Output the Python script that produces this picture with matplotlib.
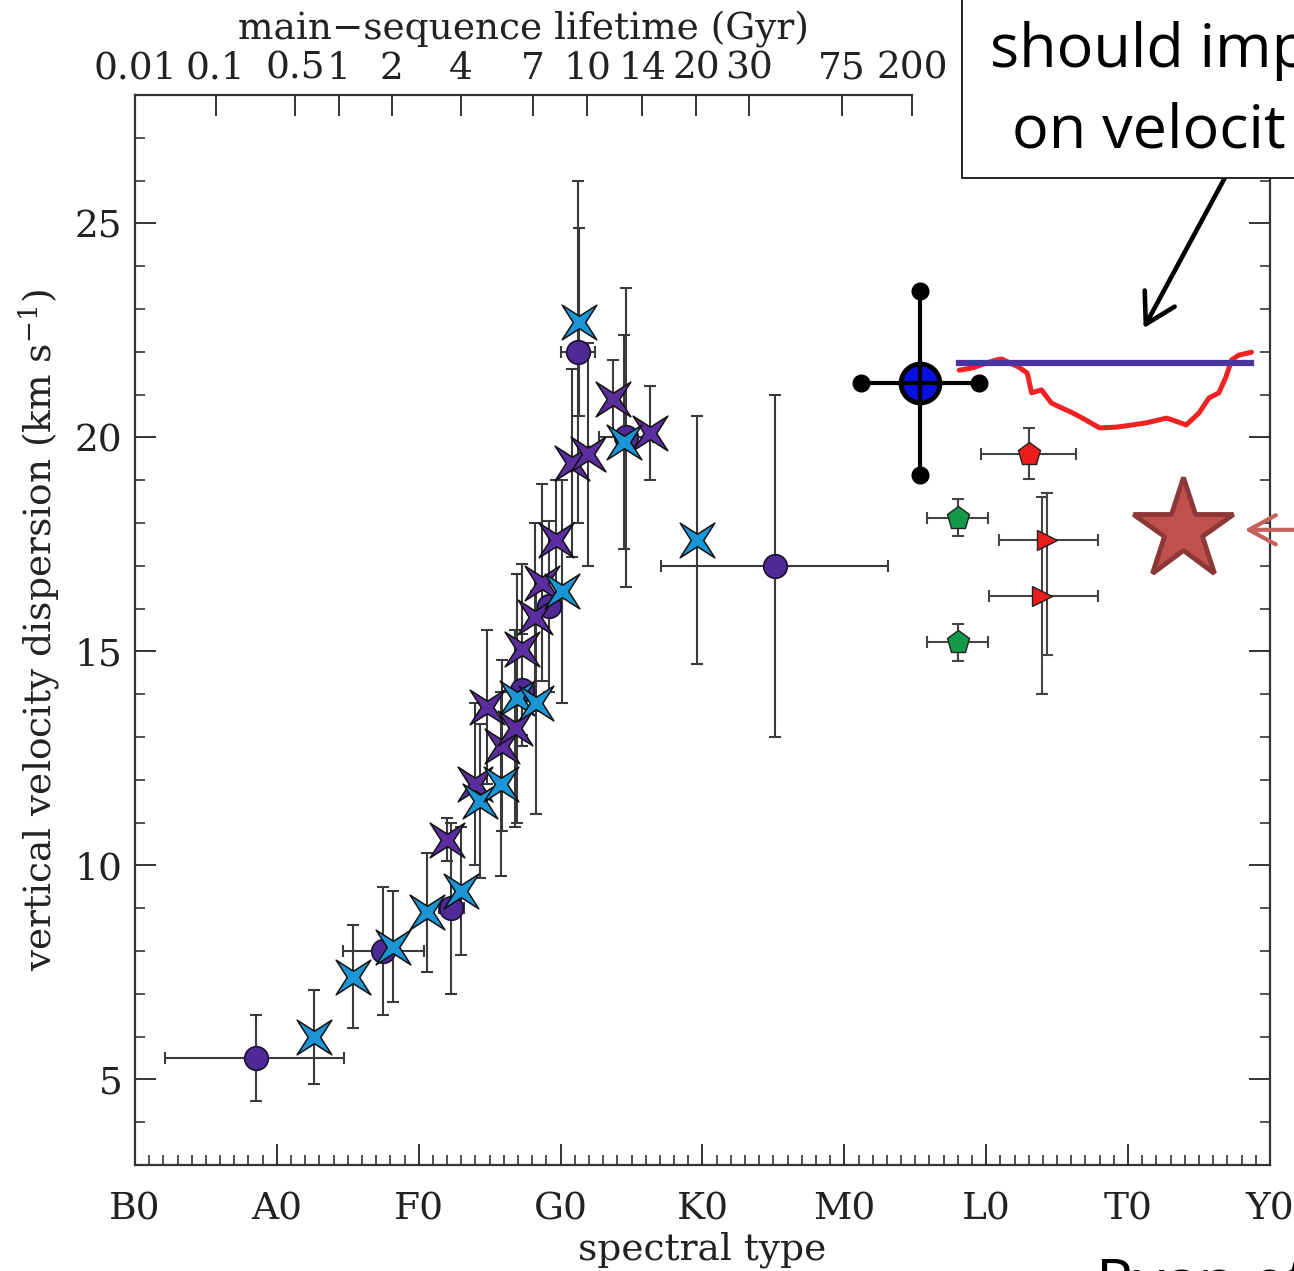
import numpy as np
import matplotlib.pyplot as plt
from matplotlib.path import Path
from matplotlib.patches import Rectangle

plt.rcParams['font.family'] = 'DejaVu Serif'
plt.rcParams['mathtext.fontset'] = 'dejavuserif'

# spectral type as a number: B0=0, A0=10, F0=20 ... Y0=80
spt_labels = ['B0', 'A0', 'F0', 'G0', 'K0', 'M0', 'L0', 'T0', 'Y0']

# main-sequence lifetime (Gyr) on the top axis, placed at spectral type
life_labels = ['0.01', '0.1', '0.5', '1', '2', '4', '7', '10', '14', '20', '30', '75', '200']
life_spt = [0.0, 5.69, 11.29, 14.35, 18.10, 22.97, 28.06, 31.89, 35.77, 39.56, 43.27, 49.82, 54.77]

# purple circles
circ_x = [8.5, 17.5, 22.3, 27.3, 29.2, 31.2, 34.6, 45.1]
circ_y = [5.5, 8.0, 9.0, 14.1, 16.05, 22.0, 20.0, 17.0]
circ_xlo = [6.4, 2.85, 0.9, 0.0, 0.0, 1.2, 1.9, 8.0]
circ_xhi = [6.2, 2.85, 0.9, 0.0, 0.0, 1.2, 1.9, 8.0]
circ_yerr = [1.0, 1.5, 2.0, 1.3, 2.0, 4.0, 3.5, 4.0]

# purple four-point stars
pst_x = [22.0, 24.0, 24.8, 25.9, 26.8, 27.3, 28.2, 28.7, 29.7, 30.8, 31.9, 33.7, 36.3]
pst_y = [10.6, 11.9, 13.7, 12.8, 13.2, 15.05, 15.8, 16.6, 17.6, 19.4, 19.6, 20.9, 20.1]
pst_yerr = [0.5, 1.9, 1.8, 2.0, 2.3, 2.0, 2.2, 2.3, 1.4, 2.2, 2.6, 0.9, 1.1]

# cyan four-point stars
cst_x = [12.6, 15.4, 18.2, 20.6, 23.0, 24.3, 25.8, 26.9, 28.3, 30.1, 31.3, 34.5, 39.6]
cst_y = [6.0, 7.4, 8.1, 8.9, 9.4, 11.5, 11.9, 13.9, 13.8, 16.4, 22.7, 19.9, 17.6]
cst_yerr = [1.1, 1.2, 1.3, 1.4, 1.5, 1.8, 2.15, 2.9, 2.6, 2.6, 2.2, 2.5, 2.9]

# brown dwarf samples
gpent_x = [58.0, 58.0]
gpent_y = [18.12, 15.21]
gpent_xerr = [2.15, 2.15]
gpent_yerr = [0.43, 0.43]

rpent_x = [63.0]
rpent_y = [19.62]
rpent_xerr = [3.35]
rpent_yerr = [0.6]

rtri_x = [64.3, 63.9]
rtri_y = [17.61, 16.3]
rtri_xlo = [3.4, 3.7]
rtri_xhi = [3.6, 4.0]
rtri_ylo = [2.7, 2.3]
rtri_yhi = [1.1, 2.3]

# big blue point
blue_x, blue_y = 55.35, 21.27
blue_xerr, blue_yerr = 4.15, 2.15

# model curves
flat_x = [58.1, 78.7]
flat_y = [21.74, 21.74]
curve_x = [58.1, 59.0, 60.7, 61.1, 62.3, 62.9, 63.2, 63.9, 64.6, 66.1, 67.0, 68.0,
           69.2, 70.3, 71.3, 72.7, 73.1, 74.1, 75.0, 75.7, 76.4, 76.9, 77.3, 77.8, 78.7]
curve_y = [21.57, 21.62, 21.81, 21.83, 21.64, 21.50, 21.04, 21.11, 20.80, 20.57, 20.41, 20.22,
           20.24, 20.29, 20.34, 20.45, 20.41, 20.29, 20.57, 20.92, 21.04, 21.41, 21.81, 21.92, 21.99]

# the highlighted star
star_x, star_y = 73.87, 17.84

# four-point star marker, tips on the diagonals
tips = [(1, 1), (-1, 1), (-1, -1), (1, -1)]
inner = [(0, 0.36), (-0.36, 0), (0, -0.36), (0.36, 0)]
verts = []
for i in range(4):
    verts += [tips[i], inner[i]]
verts.append((0, 0))
codes = [Path.MOVETO] + [Path.LINETO] * 7 + [Path.CLOSEPOLY]
star4 = Path(verts, codes)

fig = plt.figure(figsize=(12.94, 12.71), dpi=100)
ax = fig.add_axes([0.1043, 0.0834, 0.8771, 0.8419])

ebar = dict(fmt='none', ecolor='#3a3a3a', elinewidth=1.5, capsize=4.5, capthick=1.5, zorder=2)

ax.errorbar(circ_x, circ_y, xerr=[circ_xlo, circ_xhi], yerr=circ_yerr, **ebar)
ax.errorbar(pst_x, pst_y, yerr=pst_yerr, **ebar)
ax.errorbar(cst_x, cst_y, yerr=cst_yerr, **ebar)
ax.plot(circ_x, circ_y, 'o', ms=17, mfc='#4f2a96', mec='#1a1030', mew=1.2, zorder=3)
ax.plot(pst_x, pst_y, ls='none', marker=star4, ms=25, mfc='#5b2d9e', mec='#111111', mew=1.1, zorder=4)
ax.plot(cst_x, cst_y, ls='none', marker=star4, ms=25, mfc='#1b95d4', mec='#111111', mew=1.1, zorder=4)

ebar_r = dict(fmt='none', ecolor='#444444', elinewidth=1.5, capsize=4.5, capthick=1.5, zorder=2)
ax.errorbar(gpent_x, gpent_y, xerr=gpent_xerr, yerr=gpent_yerr, **ebar_r)
ax.errorbar(rpent_x, rpent_y, xerr=rpent_xerr, yerr=rpent_yerr, **ebar_r)
ax.errorbar(rtri_x, rtri_y, xerr=[rtri_xlo, rtri_xhi], yerr=[rtri_ylo, rtri_yhi], **ebar_r)
ax.plot(gpent_x, gpent_y, 'p', ms=17, mfc='#129a4a', mec='#222222', mew=1.0, zorder=3)
ax.plot(rpent_x, rpent_y, 'p', ms=17, mfc='#ec1c1c', mec='#222222', mew=1.0, zorder=3)
ax.plot(rtri_x, rtri_y, '>', ms=15, mfc='#ec1c1c', mec='#222222', mew=1.0, zorder=3)

# model lines
ax.plot(curve_x, curve_y, color='#f02222', lw=3.6, solid_capstyle='round', zorder=5)
ax.plot(flat_x, flat_y, color='#4a35a0', lw=4.5, zorder=6)

# blue point with thick black bars and dot ends
ax.plot(blue_x, blue_y, 'o', ms=28, mfc='#0a10e0', mec='black', mew=3.5, zorder=6)
ax.errorbar(blue_x, blue_y, xerr=blue_xerr, yerr=blue_yerr, fmt='none', ecolor='black',
            elinewidth=3, capsize=0, zorder=7)
ax.plot([blue_x - blue_xerr, blue_x + blue_xerr, blue_x, blue_x],
        [blue_y, blue_y, blue_y - blue_yerr, blue_y + blue_yerr],
        'o', ms=12, color='black', zorder=7)

# highlighted star with an arrow pointing at it
ax.plot(star_x, star_y, '*', ms=76, mfc='#c0504d', mec='#8c3836', mew=3.5, zorder=6)
ax.annotate('', xy=(star_x + 4.35, star_y), xytext=(star_x + 8.5, star_y),
            arrowprops=dict(arrowstyle='->,head_length=0.55,head_width=0.3', color='#c5605c',
                            lw=3, mutation_scale=35, shrinkA=0, shrinkB=0),
            annotation_clip=False, zorder=8)

# arrow from the note down to the flat line
ax.annotate('', xy=(71.1, 22.55), xytext=(76.8, 26.05),
            arrowprops=dict(arrowstyle='->,head_length=0.6,head_width=0.35', color='black',
                            lw=3.3, mutation_scale=35, shrinkA=0, shrinkB=0),
            annotation_clip=False, zorder=8)

ax.set_xlim(0, 80)
ax.set_ylim(3, 28)

ax.set_xticks(np.arange(0, 81, 10))
ax.set_xticklabels(spt_labels)
ax.set_xticks(np.arange(0, 81, 1), minor=True)
ax.set_yticks([5, 10, 15, 20, 25])
ax.set_yticks(np.arange(3, 29, 1), minor=True)

ax.tick_params(which='both', direction='in', colors='#333333', labelcolor='#222222',
               top=False, right=True, labelsize=27)
ax.tick_params(which='major', length=15, width=1.4)
ax.tick_params(which='minor', length=7, width=1.2)
ax.tick_params(axis='x', which='major', pad=19)
ax.tick_params(axis='y', which='major', pad=9)

for s in ax.spines.values():
    s.set_linewidth(1.6)
    s.set_color('#333333')
ax.spines['top'].set_visible(False)

ax.set_xlabel('spectral type', fontsize=27, color='#222222', labelpad=3)
ax.set_ylabel('vertical velocity dispersion (km s$^{-1}$)', fontsize=27, color='#222222', labelpad=9)

# top axis: main-sequence lifetime
top = ax.twiny()
top.set_xlim(0, 80)
top.set_xticks(life_spt)
top.set_xticklabels(life_labels)
top.tick_params(axis='x', direction='in', length=15, width=1.4, colors='#333333',
                labelcolor='#222222', labelsize=27, pad=6)
for side in ['left', 'right', 'bottom']:
    top.spines[side].set_visible(False)
top.spines['top'].set_linewidth(1.6)
top.spines['top'].set_color('#333333')
top.spines['top'].set_bounds(0, life_spt[-1])
top.set_xlabel('main\u2212sequence lifetime (Gyr)', fontsize=27, color='#222222', labelpad=8,
               x=life_spt[-1] / 2 / 80)

# note box in the upper right corner
box = Rectangle((0.7434, 0.860), 0.3, 0.2, transform=fig.transFigure,
                facecolor='white', edgecolor='black', lw=1.2, zorder=3)
fig.add_artist(box)
fig.text(0.7650, 1 - 67 / 1271, 'should imp', family='Open Sans', fontsize=44,
         va='baseline', ha='left', zorder=4)
fig.text(0.7820, 1 - 148 / 1271, 'on velocit', family='Open Sans', fontsize=44,
         va='baseline', ha='left', zorder=4)
fig.text(0.8470, 1 - 1256 / 1271, 'Ryan et al.', family='Open Sans', fontsize=44,
         va='top', ha='left', zorder=4)

fig.savefig('out.png', dpi=100)
